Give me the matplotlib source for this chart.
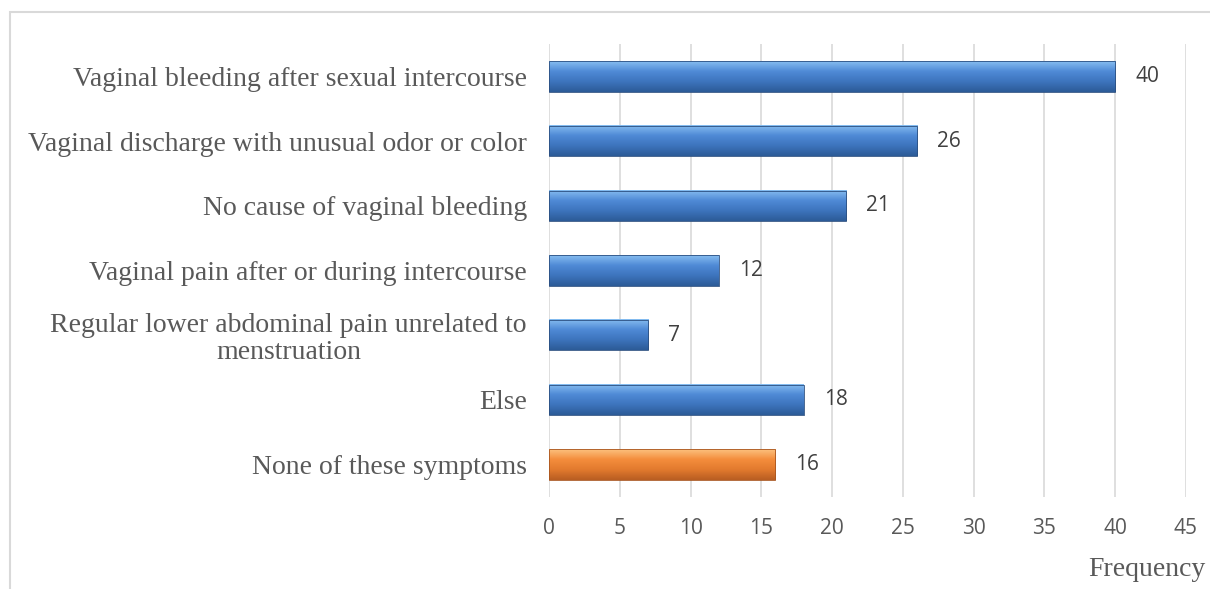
import numpy as np
import matplotlib.pyplot as plt
from matplotlib.colors import LinearSegmentedColormap
from matplotlib.patches import Rectangle

categories = [
    "Vaginal bleeding after sexual intercourse",
    "Vaginal discharge with unusual odor or color",
    "No cause of vaginal bleeding",
    "Vaginal pain after or during intercourse",
    "Regular lower abdominal pain unrelated to\nmenstruation",
    "Else",
    "None of these symptoms",
]
frequency = [40, 26, 21, 12, 7, 18, 16]
x_ticks = [0, 5, 10, 15, 20, 25, 30, 35, 40, 45]

blue_grad = LinearSegmentedColormap.from_list("b", ["#2c5b97", "#3d74bd", "#4f8ad6", "#86bdf0"])
orange_grad = LinearSegmentedColormap.from_list("o", ["#b85d22", "#e27a2e", "#f48d3c", "#fcc17e"])
text_col = "#595959"

fig = plt.figure(figsize=(12.1, 5.89), dpi=100)
fig.patches.append(Rectangle((10 / 1210, -0.1), 1.2, 1 - 12 / 589 + 0.1, transform=fig.transFigure,
                             fill=False, edgecolor="#d9d9d9", linewidth=1.5))
ax = fig.add_axes([549 / 1210, 1 - 497 / 589, (1186 - 549) / 1210, (497 - 44) / 589])

y = np.arange(len(categories))
bars = ax.barh(y, frequency, height=0.47, color="none", zorder=3)
for i, b in enumerate(bars):
    cmap = orange_grad if i == len(categories) - 1 else blue_grad
    x0, y0 = b.get_x(), b.get_y()
    w, h = b.get_width(), b.get_height()
    grad = np.linspace(0, 1, 64).reshape(-1, 1)
    # inverted y axis: top of bar is y0
    ax.imshow(grad[::-1], cmap=cmap, aspect="auto", extent=(x0, x0 + w, y0 + h, y0), zorder=3,
              interpolation="bicubic")
    ax.add_patch(Rectangle((x0, y0), w, h, fill=False, edgecolor="#2b4f80" if cmap is blue_grad else "#a8551f",
                           linewidth=0.6, zorder=4))
    ax.text(frequency[i] + 1.4, y[i], str(frequency[i]), va="center", ha="left",
            fontsize=15, color="#404040", family="Open Sans")

ax.set_xlim(0, 45)
ax.set_ylim(len(categories) - 0.5, -0.5)
ax.set_xticks(x_ticks)
ax.set_xticklabels([str(t) for t in x_ticks], family="Open Sans", fontsize=15, color=text_col)
ax.set_yticks(y)
ax.set_yticklabels(categories, family="Liberation Serif", fontsize=20, color=text_col,
                   multialignment="center", linespacing=1.1)
ax.tick_params(length=0, pad=15, axis="x")
ax.tick_params(length=0, pad=16, axis="y")
ax.grid(axis="x", color="#d9d9d9", linewidth=1.2, zorder=0)
for s in ax.spines.values():
    s.set_visible(False)

fig.text(1205 / 1210, 1 - 570 / 589, "Frequency", ha="right", va="center",
         family="Liberation Serif", fontsize=20, color=text_col)

fig.savefig("out.png", dpi=100)
